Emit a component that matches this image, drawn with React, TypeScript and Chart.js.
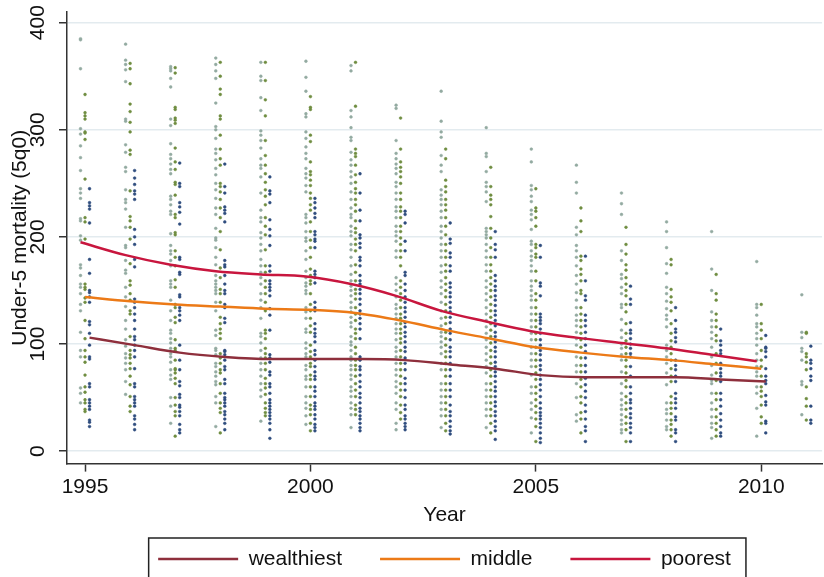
import React, { useEffect, useRef } from "react";
import { Chart, registerables } from "chart.js";

Chart.register(...registerables);

// ---- smoothed lines (one value per year) ----
const lineYears = [1995, 1996, 1997, 1998, 1999, 2000, 2001, 2002, 2003, 2004, 2005, 2006, 2007, 2008, 2009, 2010];
const wealthiestLine = [106, 99, 92, 88, 86, 86, 86, 85, 81, 77, 71, 69, 69, 69, 67, 65];
const middleLine = [144, 140, 137, 135, 133, 132, 129, 122, 113, 105, 97, 92, 88, 85, 81, 77];
const poorestLine = [195, 183, 174, 168, 165, 163, 156, 145, 131, 121, 112, 106, 101, 96, 90, 84];

// ---- axis ticks ----
const xTicks = [1995, 2000, 2005, 2010];
const yTicks = [0, 100, 200, 300, 400];

// ---- survey points (one list per year, 1995..2011) ----
const pointYears = [1995, 1996, 1997, 1998, 1999, 2000, 2001, 2002, 2003, 2004, 2005, 2006, 2007, 2008, 2009, 2010, 2011];

const poorestPoints: number[][] = [
  [385, 384, 357, 301, 296, 285, 274, 262, 245, 241, 236, 217, 215, 201, 197, 174, 171, 164, 156, 153, 147, 137, 131, 111, 94, 88, 59, 54, 45],
  [380, 365, 361, 356, 345, 310, 308, 286, 279, 265, 261, 244, 235, 232, 226, 209, 192, 190, 178, 169, 166, 153, 144, 135, 122, 114, 104, 98, 91, 87, 82, 76, 65, 53],
  [359, 357, 355, 348, 340, 310, 304, 287, 277, 273, 268, 263, 259, 238, 235, 230, 224, 221, 203, 192, 187, 184, 178, 173, 159, 156, 153, 141, 131, 122, 113, 110, 105, 101, 96, 91, 88, 83, 76, 71, 67, 50, 42, 26],
  [367, 361, 355, 348, 325, 303, 300, 292, 282, 278, 272, 264, 258, 250, 244, 236, 227, 221, 208, 199, 197, 190, 181, 174, 164, 159, 156, 153, 150, 147, 139, 131, 113, 108, 96, 94, 90, 82, 79, 74, 70, 65, 62, 51, 45, 23],
  [363, 350, 346, 330, 318, 299, 295, 290, 283, 273, 267, 264, 256, 241, 225, 218, 214, 204, 199, 193, 187, 179, 173, 167, 162, 156, 147, 141, 134, 124, 110, 107, 101, 94, 87, 82, 76, 70, 63, 57, 51, 28],
  [364, 349, 336, 315, 312, 298, 292, 284, 278, 273, 264, 259, 255, 248, 242, 221, 218, 213, 205, 199, 196, 187, 179, 168, 162, 157, 154, 150, 147, 134, 130, 124, 114, 111, 101, 96, 91, 88, 80, 76, 70, 67, 60, 51, 45, 40, 33, 25],
  [360, 355, 318, 312, 302, 293, 290, 279, 272, 267, 261, 256, 250, 242, 235, 227, 221, 218, 210, 205, 201, 193, 188, 181, 173, 165, 159, 154, 150, 145, 139, 134, 130, 125, 120, 116, 107, 102, 99, 94, 88, 85, 80, 76, 71, 67, 60, 56, 51, 45, 40, 34, 22],
  [323, 320, 290, 278, 273, 268, 264, 259, 251, 247, 241, 235, 228, 224, 218, 210, 205, 201, 196, 187, 181, 162, 156, 150, 144, 137, 133, 128, 124, 119, 114, 110, 104, 97, 93, 88, 82, 76, 71, 65, 60, 54, 45, 39, 26, 20],
  [336, 308, 298, 293, 276, 267, 261, 244, 239, 235, 230, 224, 218, 210, 205, 199, 193, 187, 181, 173, 167, 159, 153, 147, 139, 131, 124, 117, 111, 107, 102, 97, 91, 82, 76, 63, 57, 51, 45, 39, 33, 22],
  [302, 278, 275, 261, 251, 247, 242, 233, 208, 205, 202, 199, 193, 187, 181, 174, 168, 159, 153, 147, 141, 134, 128, 122, 116, 110, 104, 97, 91, 85, 79, 73, 63, 57, 51, 45, 39, 33, 22],
  [282, 270, 248, 244, 238, 233, 225, 221, 216, 207, 196, 193, 187, 182, 178, 173, 168, 159, 154, 150, 145, 141, 134, 128, 122, 116, 110, 104, 97, 91, 85, 79, 71, 60, 54, 45, 39, 31, 17],
  [267, 251, 241, 209, 202, 192, 187, 181, 173, 164, 156, 148, 141, 134, 127, 122, 117, 111, 105, 99, 88, 80, 74, 63, 50, 34, 28],
  [241, 231, 221, 187, 178, 165, 161, 153, 147, 137, 134, 123, 113, 106, 100, 96, 90, 85, 74, 63, 54, 48, 43, 39, 34, 29, 25, 20, 17],
  [214, 205, 190, 175, 166, 153, 147, 140, 133, 127, 123, 116, 99, 94, 88, 82, 73, 62, 45, 39, 35, 29, 23, 20],
  [205, 170, 150, 130, 122, 116, 111, 105, 97, 88, 80, 71, 66, 63, 54, 45, 39, 32, 26, 22, 12],
  [177, 137, 134, 127, 119, 116, 110, 105, 99, 91, 85, 79, 74, 70, 60, 54, 40, 14],
  [146, 111, 106, 96, 93, 85, 65, 62, 34],
];

const middlePoints: number[][] = [
  [333, 316, 313, 310, 298, 297, 291, 254, 218, 214, 198, 156, 153, 151, 143, 139, 122, 105, 94, 88, 83, 71, 60, 55, 48, 45, 39, 37],
  [362, 357, 343, 324, 317, 307, 298, 281, 277, 243, 219, 215, 209, 198, 175, 159, 155, 147, 141, 131, 128, 107, 94, 90, 87, 82, 77, 70, 62, 51, 42, 37],
  [358, 353, 321, 319, 311, 309, 306, 283, 270, 263, 251, 249, 239, 221, 218, 204, 202, 187, 181, 173, 160, 153, 137, 134, 125, 120, 104, 96, 94, 85, 77, 76, 73, 68, 63, 50, 43, 37, 33, 14],
  [363, 350, 338, 333, 313, 310, 295, 282, 273, 267, 250, 247, 242, 235, 227, 218, 205, 188, 171, 162, 151, 147, 139, 125, 119, 114, 110, 105, 91, 87, 82, 76, 73, 63, 54, 45, 40, 36, 17],
  [363, 346, 328, 313, 290, 276, 267, 259, 251, 244, 238, 230, 218, 210, 202, 188, 173, 167, 159, 153, 147, 139, 131, 113, 110, 105, 96, 91, 87, 82, 76, 68, 63, 59, 53, 45, 40, 36, 33],
  [331, 321, 319, 295, 289, 270, 261, 258, 253, 248, 241, 236, 230, 225, 214, 205, 197, 190, 181, 170, 164, 159, 156, 147, 137, 131, 124, 117, 111, 99, 93, 88, 82, 79, 71, 67, 60, 51, 43, 39, 34, 26, 19],
  [363, 322, 282, 278, 275, 267, 258, 251, 245, 241, 235, 230, 224, 215, 208, 204, 198, 193, 187, 174, 167, 159, 151, 147, 142, 134, 128, 122, 114, 110, 105, 97, 91, 85, 80, 76, 70, 63, 57, 51, 43, 39, 34],
  [311, 282, 270, 265, 261, 256, 250, 241, 235, 228, 224, 218, 210, 205, 199, 193, 187, 181, 173, 159, 153, 147, 141, 134, 128, 124, 119, 114, 110, 105, 101, 94, 88, 82, 76, 70, 63, 57, 51, 43, 36, 30],
  [282, 273, 253, 247, 242, 235, 230, 225, 218, 210, 202, 193, 187, 181, 174, 168, 162, 156, 150, 144, 137, 131, 125, 119, 111, 105, 99, 93, 88, 82, 76, 70, 63, 57, 51, 45, 39, 33, 26, 19],
  [265, 247, 239, 235, 230, 219, 208, 199, 190, 181, 174, 168, 162, 156, 150, 144, 137, 131, 125, 119, 113, 107, 101, 94, 88, 82, 76, 70, 63, 57, 51, 45, 39, 33, 26, 17],
  [245, 227, 224, 218, 210, 193, 190, 184, 181, 168, 159, 147, 141, 134, 128, 122, 116, 110, 104, 97, 91, 85, 79, 73, 67, 60, 54, 48, 42, 36, 30, 23, 9],
  [227, 215, 205, 182, 178, 170, 165, 159, 150, 147, 134, 128, 122, 116, 110, 104, 97, 87, 80, 74, 67, 60, 51, 45, 36, 30, 17],
  [209, 193, 184, 174, 169, 162, 156, 150, 145, 137, 130, 119, 110, 103, 97, 91, 85, 79, 73, 66, 60, 51, 45, 39, 32, 26, 20, 9],
  [179, 174, 151, 144, 139, 131, 119, 110, 103, 97, 91, 85, 77, 70, 65, 51, 45, 40, 35, 29, 25, 20, 14],
  [165, 147, 141, 128, 122, 116, 108, 103, 91, 82, 73, 66, 54, 48, 39, 32, 26, 20, 14],
  [137, 119, 113, 105, 94, 85, 79, 70, 60, 56, 51, 43, 32, 26],
  [111, 110, 91, 88, 83, 76, 60, 49, 42, 29],
];

const wealthiestPoints: number[][] = [
  [245, 232, 229, 226, 213, 179, 166, 150, 148, 144, 139, 121, 118, 110, 99, 88, 86, 63, 60, 48, 45, 42, 39, 29, 27, 23],
  [262, 255, 249, 243, 240, 235, 207, 200, 193, 179, 172, 142, 139, 134, 128, 122, 114, 107, 104, 99, 94, 88, 77, 63, 60, 51, 48, 45, 42, 33, 30, 25, 20],
  [269, 250, 247, 232, 228, 223, 212, 181, 179, 167, 165, 146, 144, 134, 131, 127, 122, 99, 85, 76, 65, 61, 53, 50, 43, 41, 37, 33, 25, 20, 17],
  [268, 247, 241, 228, 225, 222, 214, 178, 174, 172, 164, 156, 150, 147, 137, 134, 124, 120, 94, 93, 90, 85, 79, 76, 67, 63, 54, 50, 48, 45, 42, 37, 34, 30, 26, 20],
  [256, 243, 240, 232, 216, 207, 201, 192, 173, 168, 159, 156, 153, 150, 145, 133, 127, 113, 90, 87, 83, 74, 71, 63, 60, 54, 48, 45, 42, 39, 36, 33, 30, 26, 20, 12],
  [236, 232, 227, 222, 218, 205, 202, 198, 196, 190, 168, 165, 162, 157, 139, 134, 131, 119, 114, 110, 107, 102, 94, 90, 85, 79, 74, 70, 67, 60, 56, 51, 45, 42, 39, 34, 30, 25, 22, 19],
  [259, 241, 225, 215, 202, 199, 194, 190, 181, 178, 173, 164, 159, 156, 151, 147, 142, 137, 131, 128, 124, 119, 114, 105, 88, 85, 79, 76, 71, 65, 60, 54, 50, 45, 40, 37, 33, 30, 26, 22, 19],
  [224, 221, 213, 196, 187, 167, 164, 156, 150, 144, 139, 134, 130, 125, 120, 116, 111, 107, 102, 97, 93, 87, 82, 76, 68, 63, 57, 50, 43, 39, 33, 30, 26, 23, 20],
  [213, 198, 194, 185, 181, 173, 168, 157, 153, 148, 144, 139, 134, 130, 125, 120, 114, 110, 104, 97, 93, 88, 82, 76, 70, 63, 57, 51, 43, 37, 33, 28, 23, 19, 16],
  [205, 193, 188, 181, 164, 159, 154, 150, 145, 141, 136, 131, 127, 122, 117, 111, 107, 102, 97, 93, 88, 83, 79, 74, 70, 65, 60, 56, 51, 46, 42, 37, 33, 28, 23, 19, 11],
  [192, 181, 157, 154, 145, 128, 125, 122, 119, 114, 110, 104, 99, 94, 90, 85, 80, 76, 71, 67, 62, 57, 51, 45, 40, 36, 33, 30, 26, 22, 17, 12, 8],
  [182, 159, 145, 141, 127, 122, 117, 111, 105, 99, 93, 87, 80, 74, 68, 62, 56, 50, 43, 37, 30, 23, 19, 9],
  [154, 142, 137, 120, 113, 110, 105, 100, 96, 91, 88, 79, 70, 60, 54, 48, 45, 40, 35, 31, 26, 22, 17, 9],
  [134, 122, 114, 111, 106, 102, 85, 80, 76, 70, 65, 54, 49, 45, 40, 32, 29, 20, 17, 9],
  [114, 103, 99, 94, 91, 82, 77, 73, 70, 65, 54, 48, 42, 35, 29, 23, 17, 14],
  [108, 97, 96, 93, 88, 77, 70, 66, 63, 52, 46, 43, 28, 26, 17],
  [98, 85, 82, 77, 70, 66, 42, 29, 26],
];

// ---- styling ----
const FONT = "'Liberation Sans', Helvetica, Arial, sans-serif";
const COL_WEALTH = "#8e2f3c";
const COL_MIDDLE = "#ec7a17";
const COL_POOR = "#c8163e";
const PT_POOR = "#93aaa1";
const PT_MIDDLE = "#6f8d40";
const PT_WEALTH = "#2f4d7e";

const OFF_POOR = -0.1;
const OFF_MIDDLE = 0;
const OFF_WEALTH = 0.1;

function toLine(vals: number[], off: number) {
  return vals.map((v, i) => ({ x: lineYears[i] + off, y: v }));
}
function toPoints(groups: number[][], off: number) {
  const out: { x: number; y: number }[] = [];
  groups.forEach((vals, i) => vals.forEach((v) => out.push({ x: pointYears[i] + off, y: v })));
  return out;
}

const legendFrame = {
  id: "legendFrame",
  afterLayout(chart: any) {
    const lg = chart.legend;
    const ca = chart.chartArea;
    if (!lg || !ca) return;
    const dx = (ca.left + ca.right) / 2 - (lg.left + lg.right) / 2;
    lg.left += dx;
    lg.right += dx;
    lg.top -= 17.5;
    lg.bottom = chart.height + 40;
  },
  afterDraw(chart: any) {
    const lg = chart.legend;
    if (!lg || !lg.lineWidths) return;
    const p = lg.options.labels.padding;
    const rowStart = (lg.left + p + lg.right - lg.lineWidths[0]) / 2;
    const rowEnd = rowStart + lg.lineWidths[0] - p;
    const ctx = chart.ctx;
    ctx.save();
    ctx.strokeStyle = "#222";
    ctx.lineWidth = 1.5;
    ctx.strokeRect(rowStart - 9.5, lg.top + p - 10.5, rowEnd - rowStart + 24.5, 80);
    ctx.restore();
  },
};

export default function App() {
  const ref = useRef<HTMLCanvasElement>(null);

  useEffect(() => {
    document.body.style.margin = "0";
    Chart.defaults.font.family = FONT;
    Chart.defaults.font.size = 21;
    Chart.defaults.color = "#111";

    const lineBase = {
      showLine: true,
      pointRadius: 0,
      pointHoverRadius: 0,
      borderWidth: 2.5,
      fill: false,
      cubicInterpolationMode: "monotone" as const,
    };
    const ptBase = {
      showLine: false,
      pointRadius: 1.4,
      pointHoverRadius: 1.4,
      borderWidth: 0.5,
    };

    const chart = new Chart(ref.current as HTMLCanvasElement, {
      type: "scatter",
      data: {
        datasets: [
          { ...lineBase, label: "wealthiest", data: toLine(wealthiestLine, OFF_WEALTH), borderColor: COL_WEALTH, backgroundColor: COL_WEALTH },
          { ...lineBase, label: "middle", data: toLine(middleLine, OFF_MIDDLE), borderColor: COL_MIDDLE, backgroundColor: COL_MIDDLE },
          { ...lineBase, label: "poorest", data: toLine(poorestLine, OFF_POOR), borderColor: COL_POOR, backgroundColor: COL_POOR },
          { ...ptBase, label: "wealthiest points", data: toPoints(wealthiestPoints, OFF_WEALTH), borderColor: PT_WEALTH, backgroundColor: PT_WEALTH },
          { ...ptBase, label: "middle points", data: toPoints(middlePoints, OFF_MIDDLE), borderColor: PT_MIDDLE, backgroundColor: PT_MIDDLE },
          { ...ptBase, label: "poorest points", data: toPoints(poorestPoints, OFF_POOR), borderColor: PT_POOR, backgroundColor: PT_POOR },
        ] as any,
      },
      options: {
        animation: false,
        responsive: true,
        maintainAspectRatio: false,
        events: [],
        layout: { padding: { top: 12, right: 0, left: 0, bottom: 0 } },
        plugins: {
          tooltip: { enabled: false },
          legend: {
            position: "bottom",
            maxHeight: 49,
            labels: {
              boxWidth: 80,
              boxHeight: 0,
              padding: 38,
              color: "#111",
              font: { size: 21, family: FONT },
              filter: (item: any) => item.datasetIndex < 3,
            },
          },
        },
        scales: {
          x: {
            type: "linear",
            min: 1994.6,
            max: 2011.35,
            afterBuildTicks: (s: any) => {
              s.ticks = xTicks.map((v) => ({ value: v }));
            },
            afterFit: (s: any) => {
              s.paddingLeft = 0;
              s.paddingRight = 0;
            },
            ticks: {
              padding: 3,
              autoSkip: false,
              maxRotation: 0,
              color: "#111",
              font: { size: 21, family: FONT },
              callback: (v: any) => String(v),
            },
            grid: { drawOnChartArea: false, tickLength: 8, tickColor: "#333", tickWidth: 1.5 },
            border: { color: "#333", width: 1.5 },
            title: { display: true, text: "Year", color: "#111", font: { size: 21, family: FONT }, padding: { top: 0, bottom: 0 } },
          },
          y: {
            type: "linear",
            min: -11.6,
            max: 410,
            afterBuildTicks: (s: any) => {
              s.ticks = yTicks.map((v) => ({ value: v }));
            },
            afterFit: (s: any) => {
              s.width = 67;
              s.paddingTop = 0;
              s.paddingBottom = 0;
            },
            ticks: {
              minRotation: 90,
              maxRotation: 90,
              crossAlign: "center",
              padding: 3,
              autoSkip: false,
              color: "#111",
              font: { size: 21, family: FONT },
              callback: (v: any) => String(v),
            },
            grid: { color: "#e3ebef", lineWidth: 1.5, tickLength: 8, tickColor: "#333", tickWidth: 1.5 },
            border: { color: "#333", width: 1.5 },
            title: { display: true, text: "Under-5 mortality (5q0)", color: "#111", font: { size: 21, family: FONT }, padding: { top: 8, bottom: 0 } },
          },
        },
      } as any,
      plugins: [legendFrame],
    });
    return () => chart.destroy();
  }, []);

  return (
    <div style={{ position: "relative", width: 824, height: 577 }}>
      <canvas ref={ref} />
    </div>
  );
}
